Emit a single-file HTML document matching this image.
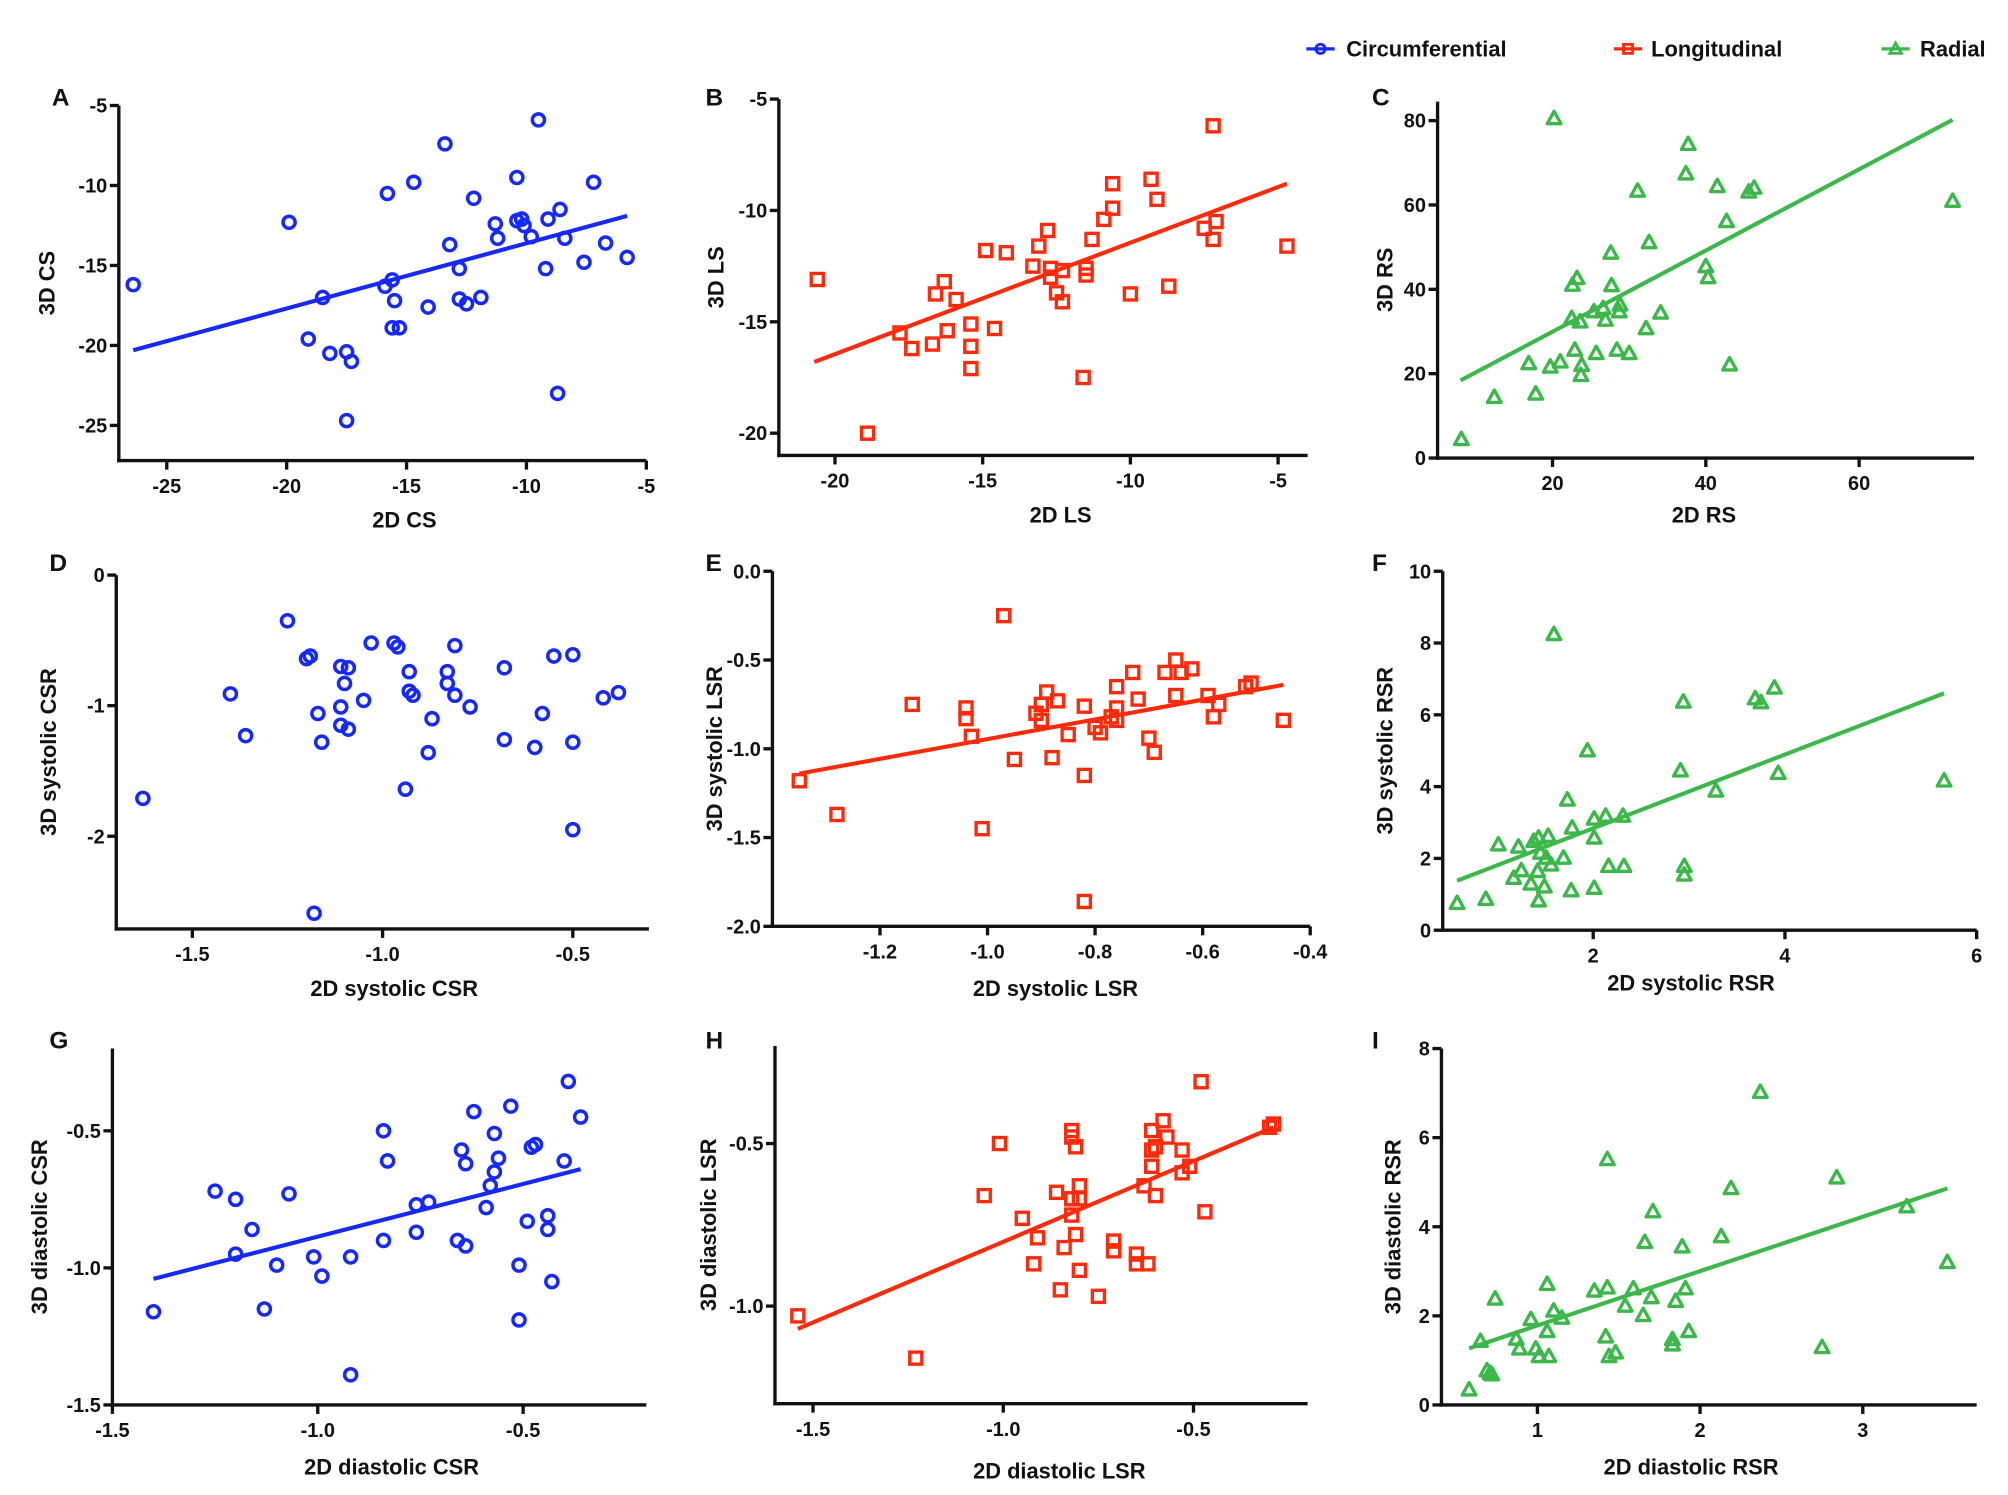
<!DOCTYPE html>
<html><head><meta charset="utf-8"><title>2D vs 3D strain correlations</title>
<style>
html,body{margin:0;padding:0;background:#fff;}
svg{display:block;font-family:"Liberation Sans",Arial,sans-serif;font-weight:bold;}
</style></head>
<body>
<svg id="fig" width="2008" height="1495" viewBox="0 0 1560 1162" xmlns="http://www.w3.org/2000/svg">
<g>
  <g>
    <line x1="1015" y1="38" x2="1037" y2="38" stroke="#1428ff" stroke-width="2.5"/>
    <circle cx="1026" cy="38" r="3.6" fill="none" stroke="#1428ff" stroke-width="2.2"/>
    <text x="1046" y="44" font-size="17" fill="#111">Circumferential</text>
  </g>
  <g>
    <line x1="1254" y1="38" x2="1276" y2="38" stroke="#ff2a0a" stroke-width="2.5"/>
    <rect x="1261.5" y="34.5" width="7" height="7" fill="none" stroke="#ff2a0a" stroke-width="2.2"/>
    <text x="1283" y="44" font-size="17" fill="#111">Longitudinal</text>
  </g>
  <g>
    <line x1="1462" y1="38" x2="1484" y2="38" stroke="#3cb84a" stroke-width="2.5"/>
    <polygon points="1473,33.5 1477.5,41.5 1468.5,41.5" fill="none" stroke="#3cb84a" stroke-width="2.2"/>
    <text x="1492" y="44" font-size="17" fill="#111">Radial</text>
  </g>
</g>
</svg>
<script>
// ---- Panel A: 2D CS vs 3D CS ----
const aX=[-26.4,-19.9,-19.1,-18.5,-18.2,-17.5,-17.3,-17.5,-15.8,-15.9,-15.6,-15.5,-15.6,-15.3,-14.7,-14.1,-13.4,-13.2,-12.8,-12.8,-12.5,-12.2,-11.9,-11.3,-11.2,-10.4,-10.4,-10.2,-10.1,-9.8,-9.5,-9.1,-9.2,-8.6,-8.4,-8.7,-7.6,-7.2,-6.7,-5.8];
const aY=[-16.2,-12.3,-19.6,-17.0,-20.5,-20.4,-21.0,-24.7,-10.5,-16.3,-15.9,-17.2,-18.9,-18.9,-9.8,-17.6,-7.4,-13.7,-15.2,-17.1,-17.4,-10.8,-17.0,-12.4,-13.3,-9.5,-12.2,-12.1,-12.5,-13.2,-5.9,-12.1,-15.2,-11.5,-13.3,-23.0,-14.8,-9.8,-13.6,-14.5];
const aFitX=[-26.4,-5.8];
const aFitY=[-20.3,-11.9];
const aXTicks=[-25,-20,-15,-10,-5];
const aYTicks=[-5,-10,-15,-20,-25];
// ---- Panel B: 2D LS vs 3D LS ----
const bX=[-20.6,-18.9,-17.8,-17.4,-16.7,-16.6,-16.3,-16.2,-15.9,-15.4,-15.4,-15.4,-14.9,-14.6,-14.2,-13.3,-13.1,-12.8,-12.7,-12.7,-12.5,-12.3,-12.3,-11.6,-11.5,-11.5,-11.3,-10.9,-10.6,-10.6,-10.0,-9.3,-9.1,-8.7,-7.5,-7.2,-7.1,-7.2,-4.7];
const bY=[-13.1,-20.0,-15.5,-16.2,-16.0,-13.75,-13.2,-15.4,-14.0,-15.1,-16.1,-17.1,-11.8,-15.3,-11.9,-12.5,-11.6,-10.9,-12.6,-13.0,-13.7,-12.7,-14.1,-17.5,-12.6,-12.9,-11.3,-10.4,-9.9,-8.8,-13.75,-8.6,-9.5,-13.4,-10.8,-11.3,-10.5,-6.2,-11.6];
const bFitX=[-20.7,-4.7];
const bFitY=[-16.8,-8.8];
const bXTicks=[-20,-15,-10,-5];
const bYTicks=[-5,-10,-15,-20];
// ---- Panel C: 2D RS vs 3D RS ----
const cX=[8.1,12.4,17.8,16.9,19.7,21.0,20.2,22.5,22.6,23.2,22.9,23.6,23.8,23.7,25.4,25.7,26.6,26.9,27.6,27.7,28.4,28.8,28.7,30.0,31.1,32.2,32.6,34.1,37.4,37.7,40.0,40.3,41.5,42.7,43.1,45.6,46.3,72.2];
const cY=[4.4,14.4,15.2,22.4,21.6,22.8,80.5,33.1,41.0,42.6,25.6,32.3,22.0,19.6,34.7,24.8,35.5,32.7,48.6,40.9,25.6,36.3,34.7,24.8,63.3,30.7,51.1,34.4,67.4,74.4,45.4,42.8,64.4,56.1,22.1,63.1,64.0,60.9];
const cFitX=[8,72.2];
const cFitY=[18.4,80.2];
const cXTicks=[20,40,60];
const cYTicks=[0,20,40,60,80];
// ---- Panel D: 2D systolic CSR vs 3D systolic CSR ----
const dX=[-1.63,-1.40,-1.36,-1.25,-1.20,-1.19,-1.18,-1.17,-1.16,-1.11,-1.11,-1.10,-1.11,-1.09,-1.09,-1.05,-1.03,-0.97,-0.96,-0.94,-0.93,-0.93,-0.92,-0.88,-0.87,-0.83,-0.83,-0.81,-0.81,-0.77,-0.68,-0.68,-0.60,-0.58,-0.55,-0.50,-0.50,-0.50,-0.42,-0.38];
const dY=[-1.71,-0.91,-1.23,-0.35,-0.64,-0.62,-2.59,-1.06,-1.28,-0.70,-1.01,-0.83,-1.15,-0.71,-1.18,-0.96,-0.52,-0.52,-0.55,-1.64,-0.74,-0.89,-0.92,-1.36,-1.10,-0.74,-0.83,-0.54,-0.92,-1.01,-0.71,-1.26,-1.32,-1.06,-0.62,-0.61,-1.28,-1.95,-0.94,-0.90];
const dFitX=[];
const dFitY=[];
const dXTicks=[-1.5,-1.0,-0.5];
const dYTicks=[0,-1,-2];
// ---- Panel E: 2D systolic LSR vs 3D systolic LSR ----
const eX=[-1.35,-1.28,-1.14,-1.04,-1.04,-1.03,-1.01,-0.97,-0.95,-0.91,-0.90,-0.90,-0.89,-0.88,-0.87,-0.85,-0.82,-0.82,-0.82,-0.80,-0.79,-0.77,-0.76,-0.76,-0.76,-0.73,-0.72,-0.70,-0.69,-0.67,-0.65,-0.65,-0.64,-0.62,-0.59,-0.58,-0.57,-0.52,-0.51,-0.45];
const eY=[-1.18,-1.37,-0.75,-0.77,-0.83,-0.93,-1.45,-0.25,-1.06,-0.80,-0.75,-0.84,-0.68,-1.05,-0.73,-0.92,-0.76,-1.15,-1.86,-0.88,-0.91,-0.82,-0.65,-0.77,-0.84,-0.57,-0.72,-0.94,-1.02,-0.57,-0.50,-0.70,-0.57,-0.55,-0.70,-0.82,-0.75,-0.65,-0.63,-0.84];
const eFitX=[-1.35,-0.45];
const eFitY=[-1.14,-0.64];
const eXTicks=[-1.2,-1.0,-0.8,-0.6,-0.4];
const eYTicks=[0,-0.5,-1.0,-1.5,-2.0];
// ---- Panel F: 2D systolic RSR vs 3D systolic RSR ----
const fX=[0.58,0.88,1.01,1.17,1.22,1.25,1.35,1.38,1.43,1.42,1.43,1.45,1.49,1.51,1.53,1.56,1.59,1.69,1.73,1.77,1.78,1.94,2.01,2.01,2.01,2.13,2.16,2.31,2.32,2.91,2.94,2.95,2.95,3.28,3.69,3.75,3.89,3.93,5.66];
const fY=[0.75,0.86,2.38,1.45,2.32,1.66,1.29,2.48,2.57,1.64,0.82,2.15,1.21,2.01,2.62,1.82,8.24,2.01,3.63,1.10,2.85,5.00,1.17,2.57,3.10,3.18,1.78,3.18,1.78,4.44,6.36,1.78,1.54,3.88,6.45,6.34,6.75,4.37,4.16];
const fFitX=[0.58,5.66];
const fFitY=[1.38,6.6];
const fXTicks=[2,4,6];
const fYTicks=[0,2,4,6,8,10];
// ---- Panel G: 2D diastolic CSR vs 3D diastolic CSR ----
const gX=[-1.40,-1.25,-1.20,-1.20,-1.16,-1.13,-1.10,-1.07,-1.01,-0.99,-0.92,-0.92,-0.84,-0.84,-0.83,-0.76,-0.76,-0.73,-0.66,-0.65,-0.64,-0.64,-0.62,-0.59,-0.58,-0.57,-0.57,-0.56,-0.53,-0.51,-0.51,-0.49,-0.48,-0.47,-0.44,-0.44,-0.43,-0.40,-0.39,-0.36];
const gY=[-1.16,-0.72,-0.75,-0.95,-0.86,-1.15,-0.99,-0.73,-0.96,-1.03,-0.96,-1.39,-0.50,-0.90,-0.61,-0.87,-0.77,-0.76,-0.90,-0.57,-0.62,-0.92,-0.43,-0.78,-0.70,-0.65,-0.51,-0.60,-0.41,-0.99,-1.19,-0.83,-0.56,-0.55,-0.81,-0.86,-1.05,-0.61,-0.32,-0.45];
const gFitX=[-1.40,-0.36];
const gFitY=[-1.04,-0.64];
const gXTicks=[-1.5,-1.0,-0.5];
const gYTicks=[-0.5,-1.0,-1.5];
// ---- Panel H: 2D diastolic LSR vs 3D diastolic LSR ----
const hX=[-1.54,-1.23,-1.05,-1.01,-0.95,-0.92,-0.91,-0.86,-0.85,-0.84,-0.82,-0.82,-0.82,-0.82,-0.81,-0.81,-0.80,-0.80,-0.80,-0.75,-0.71,-0.71,-0.65,-0.65,-0.63,-0.62,-0.61,-0.61,-0.61,-0.60,-0.60,-0.58,-0.57,-0.53,-0.53,-0.51,-0.48,-0.47,-0.30,-0.29];
const hY=[-1.03,-1.16,-0.66,-0.50,-0.73,-0.87,-0.79,-0.65,-0.95,-0.82,-0.46,-0.48,-0.72,-0.67,-0.51,-0.78,-0.63,-0.67,-0.89,-0.97,-0.80,-0.83,-0.84,-0.87,-0.63,-0.87,-0.46,-0.52,-0.57,-0.66,-0.51,-0.43,-0.48,-0.52,-0.59,-0.57,-0.31,-0.71,-0.45,-0.44];
const hFitX=[-1.54,-0.29];
const hFitY=[-1.07,-0.45];
const hXTicks=[-1.5,-1.0,-0.5];
const hYTicks=[-0.5,-1.0];
// ---- Panel I: 2D diastolic RSR vs 3D diastolic RSR ----
const iX=[0.58,0.65,0.69,0.71,0.72,0.74,0.87,0.89,0.96,0.99,1.01,1.06,1.06,1.07,1.10,1.15,1.35,1.42,1.43,1.43,1.44,1.48,1.54,1.59,1.65,1.66,1.70,1.71,1.83,1.83,1.85,1.89,1.91,1.93,2.13,2.19,2.37,2.75,2.84,3.27,3.52];
const iY=[0.34,1.43,0.77,0.71,0.68,2.38,1.48,1.26,1.92,1.26,1.09,1.65,2.71,1.09,2.11,1.95,2.56,1.53,5.51,2.63,1.09,1.17,2.22,2.61,2.01,3.65,2.41,4.34,1.35,1.47,2.33,3.55,2.61,1.65,3.78,4.86,7.02,1.29,5.10,4.45,3.20];
const iFitX=[0.58,3.52];
const iFitY=[1.27,4.86];
const iXTicks=[1,2,3];
const iYTicks=[0,2,4,6,8];

const BLUE="#1428ff", RED="#ff2a0a", GREEN="#3cb84a";
const NS="http://www.w3.org/2000/svg";
const svg=document.getElementById('fig');

function fmt(v,dec){return dec===0?String(v):v.toFixed(dec);}
function mk(tag,attrs,parent){const e=document.createElementNS(NS,tag);for(const k in attrs)e.setAttribute(k,attrs[k]);parent.appendChild(e);return e;}

// layout configuration (pixel geometry only)
const layout=[
 {key:'a',letter:'A',lx:40,ly:82,xDom:[-27,-5],xPix:[92,502],yDom:[-27.2,-5],yPix:[358,82],xDec:0,yDec:0,xt:'2D CS',yt:'3D CS',xtX:314,xtY:410,ytX:42,col:BLUE,mark:'circle',X:aX,Y:aY,FX:aFitX,FY:aFitY,XT:aXTicks,YT:aYTicks},
 {key:'b',letter:'B',lx:548,ly:82,xDom:[-21.9,-4],xPix:[605,1016],yDom:[-21,-5],yPix:[354,77],xDec:0,yDec:0,xt:'2D LS',yt:'3D LS',xtX:824,xtY:406,ytX:562,col:RED,mark:'square',X:bX,Y:bY,FX:bFitX,FY:bFitY,XT:bXTicks,YT:bYTicks},
 {key:'c',letter:'C',lx:1066,ly:82,xDom:[5,75],xPix:[1117,1534],yDom:[0,84.5],yPix:[356,79],xDec:0,yDec:0,xt:'2D RS',yt:'3D RS',xtX:1324,xtY:406,ytX:1082,col:GREEN,mark:'tri',X:cX,Y:cY,FX:cFitX,FY:cFitY,XT:cXTicks,YT:cYTicks},
 {key:'d',letter:'D',lx:38,ly:444,xDom:[-1.7,-0.3],xPix:[90,504],yDom:[-2.71,0],yPix:[722,447],xDec:1,yDec:0,xt:'2D systolic CSR',yt:'3D systolic CSR',xtX:306,xtY:774,ytX:43,col:BLUE,mark:'circle',X:dX,Y:dY,FX:dFitX,FY:dFitY,XT:dXTicks,YT:dYTicks},
 {key:'e',letter:'E',lx:548,ly:444,xDom:[-1.4,-0.4],xPix:[600,1018],yDom:[-2,0],yPix:[720,444],xDec:1,yDec:1,xt:'2D systolic LSR',yt:'3D systolic LSR',xtX:820,xtY:774,ytX:561,col:RED,mark:'square',X:eX,Y:eY,FX:eFitX,FY:eFitY,XT:eXTicks,YT:eYTicks},
 {key:'f',letter:'F',lx:1066,ly:444,xDom:[0.43,6],xPix:[1121,1536],yDom:[0,10],yPix:[723,444],xDec:0,yDec:0,xt:'2D systolic RSR',yt:'3D systolic RSR',xtX:1314,xtY:770,ytX:1082,col:GREEN,mark:'tri',X:fX,Y:fY,FX:fFitX,FY:fFitY,XT:fXTicks,YT:fYTicks},
 {key:'g',letter:'G',lx:38,ly:815,xDom:[-1.5,-0.2],xPix:[87,502],yDom:[-1.5,-0.2],yPix:[1092,815],xDec:1,yDec:1,xt:'2D diastolic CSR',yt:'3D diastolic CSR',xtX:304,xtY:1146,ytX:36,col:BLUE,mark:'circle',X:gX,Y:gY,FX:gFitX,FY:gFitY,XT:gXTicks,YT:gYTicks},
 {key:'h',letter:'H',lx:548,ly:815,xDom:[-1.6,-0.2],xPix:[602,1016],yDom:[-1.3,-0.2],yPix:[1091,813],xDec:1,yDec:1,xt:'2D diastolic LSR',yt:'3D diastolic LSR',xtX:823,xtY:1149,ytX:556,col:RED,mark:'square',X:hX,Y:hY,FX:hFitX,FY:hFitY,XT:hXTicks,YT:hYTicks},
 {key:'i',letter:'I',lx:1066,ly:815,xDom:[0.41,3.7],xPix:[1120,1536],yDom:[0,8],yPix:[1092,815],xDec:0,yDec:0,xt:'2D diastolic RSR',yt:'3D diastolic RSR',xtX:1314,xtY:1146,ytX:1088,col:GREEN,mark:'tri',X:iX,Y:iY,FX:iFitX,FY:iFitY,XT:iXTicks,YT:iYTicks}
];

layout.forEach(p=>{
  const sx=v=>p.xPix[0]+(v-p.xDom[0])/(p.xDom[1]-p.xDom[0])*(p.xPix[1]-p.xPix[0]);
  const sy=v=>p.yPix[0]+(v-p.yDom[0])/(p.yDom[1]-p.yDom[0])*(p.yPix[1]-p.yPix[0]);
  const g=mk('g',{},svg);
  
  
  const L=mk('text',{x:p.lx,y:p.ly,'font-size':19,fill:'#111'},g);
  L.textContent=p.letter;
  
  
  const x0=p.xPix[0], y0=p.yPix[0];
  const ax=mk('g',{stroke:'#111','stroke-width':2.6,fill:'none'},g);
  
  
  mk('line',{x1:x0,y1:p.yPix[1],x2:x0,y2:y0+1.3},ax);
  mk('line',{x1:x0-1.3,y1:y0,x2:p.xPix[1],y2:y0},ax);
  p.XT.forEach(v=>{
    const x=sx(v);
    mk('line',{x1:x,y1:y0,x2:x,y2:y0+7},ax);
    const t=mk('text',{x:x,y:y0+25,'font-size':15.5,'text-anchor':'middle',fill:'#111'},g);
    t.textContent=fmt(v,p.xDec);
    
    
  });
  p.YT.forEach(v=>{
    const y=sy(v);
    mk('line',{x1:x0-7,y1:y,x2:x0,y2:y},ax);
    const t=mk('text',{x:x0-9,y:y+5.5,'font-size':15.5,'text-anchor':'end',fill:'#111'},g);
    t.textContent=fmt(v,p.yDec);
    
    
  });
  const xt=mk('text',{x:p.xtX,y:p.xtY,'font-size':17,'text-anchor':'middle',fill:'#111'},g);
  xt.textContent=p.xt;
  
  
  const cy=(p.yPix[0]+p.yPix[1])/2;
  const yt=mk('text',{x:p.ytX,y:cy,'font-size':17,'text-anchor':'middle',fill:'#111',transform:'rotate(-90 '+p.ytX+' '+cy+')'},g);
  yt.textContent=p.yt;
  
  
  if(p.FX.length===2){
    const fl=mk('line',{x1:sx(p.FX[0]),y1:sy(p.FY[0]),x2:sx(p.FX[1]),y2:sy(p.FY[1]),stroke:p.col,'stroke-width':3.2},g);
    
    
  }
  p.X.forEach((xv,i)=>{
    const x=sx(xv), y=sy(p.Y[i]);
    let m;
    if(p.mark==='circle'){
      m=mk('circle',{cx:x,cy:y,r:4.7,fill:'none',stroke:p.col,'stroke-width':2.7},g);
    }else if(p.mark==='square'){
      m=mk('rect',{x:x-4.7,y:y-4.7,width:9.4,height:9.4,fill:'none',stroke:p.col,'stroke-width':2.6},g);
    }else{
      m=mk('polygon',{points:(x)+','+(y-5.6)+' '+(x+5.3)+','+(y+4)+' '+(x-5.3)+','+(y+4),fill:'none',stroke:p.col,'stroke-width':2.6,'stroke-linejoin':'round'},g);
    }
    
    
  });
});
</script>
</body></html>
